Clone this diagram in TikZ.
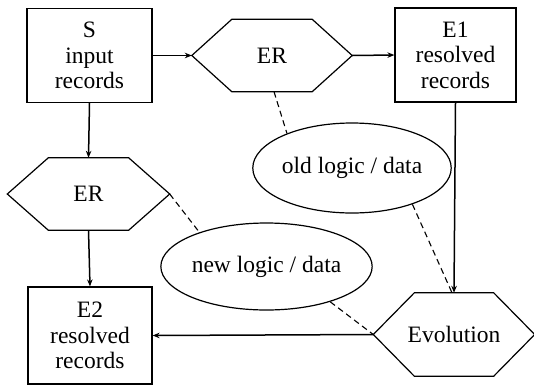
\documentclass[tikz,border=0pt]{standalone}
\usepackage{fontspec}
\setmainfont{Liberation Serif}
\usetikzlibrary{arrows.meta,shapes.geometric}
\begin{document}
\begin{tikzpicture}[x=1pt,y=-1pt,
  every node/.style={font=\fontsize{23.5}{25.5}\selectfont, inner sep=0pt, align=center},
  box/.style={draw, line width=1.2pt, minimum width=#1},
  hexa/.style={minimum width=#1},
  oval/.style={draw, ellipse, line width=1.2pt},
  arr/.style={line width=1.5pt, -{Stealth[length=7pt,width=5.5pt]}},
  dashline/.style={line width=1.1pt, dash pattern=on 6pt off 4pt}]
\useasboundingbox (0,0) rectangle (534,386);
\node[box=125pt, minimum height=94pt] (s) at (89.5,55.5) {S\\input\\records};
\node[box=121pt, minimum height=94pt] (e1) at (455.5,55) {E1\\resolved\\records};
\node[box=124pt, minimum height=97pt] (e2) at (90,335.5) {E2\\resolved\\records};
\node[hexa=160pt, minimum height=72pt] (er1) at (272,55.5) {ER};
\node[hexa=162pt, minimum height=72pt] (er2) at (88.5,194) {ER};
\node[hexa=161pt, minimum height=83pt] (evo) at (454,334.5) {Evolution};
\node[oval, minimum width=166pt, minimum height=90pt] (old) at (352,168) {old logic / data};
\node[oval, minimum width=165pt, minimum height=87pt] (new) at (266.5,266.5) {new logic / data};
\foreach \n/\c in {er1/40pt, er2/41pt, evo/41pt}{
  \draw[line width=1.2pt, line join=miter] (\n.west) -- ([xshift=\c]\n.north west) -- ([xshift=-\c]\n.north east) -- (\n.east) -- ([xshift=-\c]\n.south east) -- ([xshift=\c]\n.south west) -- cycle;
}
\draw[arr] (s.east) -- (er1.west);
\draw[arr] (er1.east) -- (e1.west);
\draw[arr] (s.south) -- (er2.north);
\draw[arr] (er2.south) -- (e2.north);
\draw[arr] (e1.south) -- (evo.north);
\draw[arr] (evo.west) -- (e2.east);
\draw[dashline] ([xshift=2pt]er1.south) -- (old.152);
\draw[dashline] (old.329) -- ([xshift=-2pt]evo.north);
\draw[dashline] (er2.east) -- (new.153);
\draw[dashline] (new.331) -- (evo.west);
\end{tikzpicture}
\end{document}
